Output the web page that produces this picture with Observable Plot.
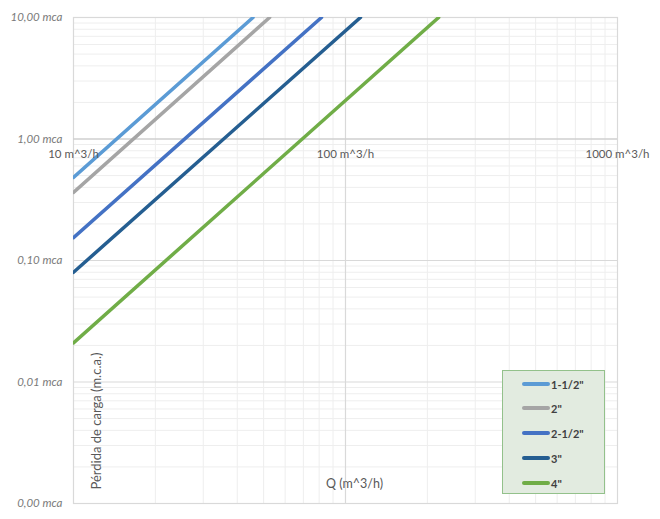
<!DOCTYPE html>
<html>
<head>
<meta charset="utf-8">
<script src="https://cdn.jsdelivr.net/npm/d3@7"></script>
<script src="https://cdn.jsdelivr.net/npm/@observablehq/plot@0.6"></script>
<style>
  html, body { margin: 0; padding: 0; background: #fff; }
  #wrap { position: relative; width: 660px; height: 519px; font-family: Lato, "Open Sans", sans-serif; }
  #legend { position: absolute; left: 502px; top: 370px; width: 103px; height: 124px;
    background: #e2ebe0; border: 1.5px solid #93c18b; box-sizing: border-box; }
  .item { position: absolute; left: 19px; height: 14px; display: flex; align-items: center;
    font-weight: bold; font-size: 11px; color: #404040; }
  .sw { width: 28px; height: 3.5px; border-radius: 2px; margin-right: 1px; }
</style>
</head>
<body>
<div id="wrap"></div>
<script>
const series = ['1-1/2"', '2"', '2-1/2"', '3"', '4"'];
const colors = ["#5b9bd5", "#a5a5a5", "#4472c4", "#255e91", "#70ad47"];
const qStart = [10, 10, 10, 10, 10];
const lossStart = [0.483, 0.364, 0.154, 0.080, 0.021];
const qEnd = [45.7, 52.6, 81.6, 113.5, 220];
const lossEnd = [10, 10, 10, 10, 10];

const xTicks = [10, 100, 1000];
const xLabels = ["10 m^3/h", "100 m^3/h", "1000 m^3/h"];
const yTicks = [10, 1, 0.1, 0.01, 0.001];
const yLabels = ["10,00 mca", "1,00 mca", "0,10 mca", "0,01 mca", "0,00 mca"];
const xTitle = "Q (m^3/h)";
const yTitle = "Pérdida de carga (m.c.a.)";

const rows = [];
series.forEach((s, i) => {
  rows.push({s, q: qStart[i], h: lossStart[i]});
  rows.push({s, q: qEnd[i], h: lossEnd[i]});
});

const minorX = d3.scaleLog().domain([10, 1000]).ticks().filter(v => !xTicks.includes(v));
const minorY = d3.scaleLog().domain([0.001, 10]).ticks().filter(v => !yTicks.some(t => Math.abs(t - v) / v < 1e-9));

const chart = Plot.plot({
  width: 660, height: 519,
  marginLeft: 73, marginRight: 43, marginTop: 17, marginBottom: 16,
  style: {fontFamily: "Lato, 'Open Sans', sans-serif", background: "transparent"},
  x: {type: "log", domain: [10, 1000], axis: null},
  y: {type: "log", domain: [0.001, 10], axis: null},
  color: {domain: series, range: colors},
  marks: [
    Plot.ruleX(minorX, {stroke: "#eeeeee", strokeWidth: 1}),
    Plot.ruleY(minorY, {stroke: "#eeeeee", strokeWidth: 1}),
    Plot.ruleX([100], {stroke: "#d9d9d9", strokeWidth: 1.2}),
    Plot.ruleY([0.1, 0.01], {stroke: "#d9d9d9", strokeWidth: 1.2}),
    Plot.frame({stroke: "#d9d9d9", strokeWidth: 1.2}),
    Plot.ruleY([1], {stroke: "#cfcfcf", strokeWidth: 1.6}),
    Plot.line(rows, {x: "q", y: "h", z: "s", stroke: "s", strokeWidth: 3.5, clip: true}),
    Plot.text(yTicks, {x: 10, y: d => d, text: (d, i) => yLabels[i], textAnchor: "end", dx: -11,
      fontStyle: "italic", fontSize: 11.5, fill: "#7a7a7a"}),
    Plot.text(xTicks, {x: d => d, y: 1, text: (d, i) => xLabels[i], dy: 15, fontSize: 11.5, fill: "#595959"}),
    Plot.text([xTitle], {frameAnchor: "bottom", dx: 9, dy: -16, fontSize: 12.5, fill: "#595959"}),
    Plot.text([yTitle], {frameAnchor: "bottom-left", dx: 27, dy: -14, rotate: -90, textAnchor: "start",
      fontSize: 13, fill: "#595959"})
  ]
});

const wrap = document.getElementById("wrap");
wrap.appendChild(chart);

const legend = document.createElement("div");
legend.id = "legend";
const tops = [6, 30, 55, 80, 105];
series.forEach((s, i) => {
  const it = document.createElement("div");
  it.className = "item";
  it.style.top = tops[i] + "px";
  const sw = document.createElement("span");
  sw.className = "sw";
  sw.style.background = colors[i];
  it.appendChild(sw);
  const t = document.createElement("span");
  t.textContent = s;
  it.appendChild(t);
  legend.appendChild(it);
});
wrap.appendChild(legend);
</script>
</body>
</html>
